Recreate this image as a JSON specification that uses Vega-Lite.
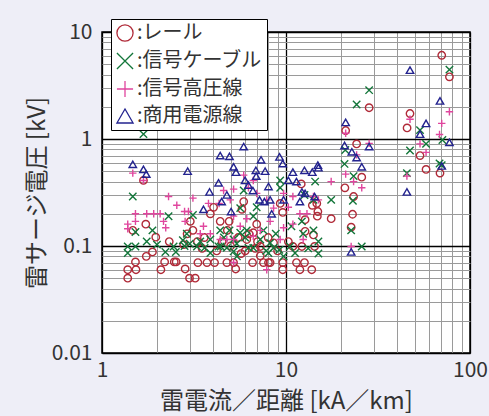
{
  "$schema": "https://vega.github.io/schema/vega-lite/v6.json",
  "width": 368,
  "height": 321,
  "autosize": "none",
  "padding": {"left": 102, "top": 32, "right": 19, "bottom": 63},
  "background": "#eeeef7",
  "config": {
    "view": {"fill": "white", "stroke": "black", "strokeWidth": 1.5},
    "font": "Noto Sans CJK JP"
  },
  "data": {"values": [
    {"s":"レール","x":70.2,"y":6.06},{"s":"レール","x":77.3,"y":3.81},{"s":"レール","x":28.3,"y":1.96},{"s":"レール","x":47.2,"y":1.73},
    {"s":"レール","x":45.5,"y":1.27},{"s":"レール","x":21.1,"y":1.2},{"s":"レール","x":24.2,"y":0.9},{"s":"レール","x":53.5,"y":0.7},
    {"s":"レール","x":57.7,"y":0.52},{"s":"レール","x":68.7,"y":0.48},{"s":"レール","x":25.8,"y":0.44},{"s":"レール","x":20.9,"y":0.35},
    {"s":"レール","x":23.3,"y":0.29},{"s":"レール","x":23.0,"y":0.198},{"s":"レール","x":22.6,"y":0.15},{"s":"レール","x":17.6,"y":0.18},
    {"s":"レール","x":14.9,"y":0.21},{"s":"レール","x":14.7,"y":0.25},{"s":"レール","x":12.1,"y":0.38},{"s":"レール","x":1.68,"y":0.41},
    {"s":"レール","x":1.73,"y":0.16},{"s":"レール","x":1.47,"y":0.14},{"s":"レール","x":1.74,"y":0.08},{"s":"レール","x":1.96,"y":0.121},
    {"s":"レール","x":1.88,"y":0.088},{"s":"レール","x":2.32,"y":0.11},{"s":"レール","x":2.19,"y":0.071},{"s":"レール","x":2.53,"y":0.071},
    {"s":"レール","x":2.47,"y":0.071},{"s":"レール","x":2.09,"y":0.06},{"s":"レール","x":1.52,"y":0.071},{"s":"レール","x":1.38,"y":0.06},
    {"s":"レール","x":1.53,"y":0.06},{"s":"レール","x":1.38,"y":0.05},{"s":"レール","x":2.83,"y":0.061},{"s":"レール","x":2.99,"y":0.05},
    {"s":"レール","x":3.21,"y":0.05},{"s":"レール","x":3.32,"y":0.07},{"s":"レール","x":3.72,"y":0.07},{"s":"レール","x":4.09,"y":0.07},
    {"s":"レール","x":3.02,"y":0.17},{"s":"レール","x":3.12,"y":0.14},{"s":"レール","x":3.88,"y":0.2},{"s":"レール","x":4.04,"y":0.23},
    {"s":"レール","x":3.6,"y":0.12},{"s":"レール","x":2.78,"y":0.103},{"s":"レール","x":4.77,"y":0.07},{"s":"レール","x":5.19,"y":0.07},
    {"s":"レール","x":5.33,"y":0.061},{"s":"レール","x":4.39,"y":0.17},{"s":"レール","x":4.91,"y":0.17},{"s":"レール","x":5.89,"y":0.26},
    {"s":"レール","x":5.76,"y":0.22},{"s":"レール","x":6.58,"y":0.07},{"s":"レール","x":7.54,"y":0.07},{"s":"レール","x":8.03,"y":0.07},
    {"s":"レール","x":8.2,"y":0.07},{"s":"レール","x":6.93,"y":0.16},{"s":"レール","x":6.64,"y":0.133},{"s":"レール","x":6.12,"y":0.115},
    {"s":"レール","x":7.25,"y":0.081},{"s":"レール","x":9.6,"y":0.07},{"s":"レール","x":9.6,"y":0.06},{"s":"レール","x":9.3,"y":0.25},
    {"s":"レール","x":9.6,"y":0.206},{"s":"レール","x":10.3,"y":0.11},{"s":"レール","x":10.9,"y":0.099},{"s":"レール","x":11.4,"y":0.07},
    {"s":"レール","x":12.6,"y":0.07},{"s":"レール","x":11.9,"y":0.06},{"s":"レール","x":13.8,"y":0.06},{"s":"レール","x":12.2,"y":0.099},
    {"s":"レール","x":12.7,"y":0.137},{"s":"レール","x":14.1,"y":0.127},{"s":"レール","x":14.3,"y":0.099},{"s":"レール","x":12.7,"y":0.176},
    {"s":"レール","x":8.56,"y":0.107},{"s":"レール","x":7.25,"y":0.099},{"s":"レール","x":4.5,"y":0.11},{"s":"レール","x":5.0,"y":0.1},
    {"s":"レール","x":5.5,"y":0.12},{"s":"レール","x":6.0,"y":0.09},{"s":"レール","x":6.3,"y":0.13},{"s":"レール","x":4.2,"y":0.09},
    {"s":"レール","x":3.3,"y":0.11},{"s":"レール","x":2.9,"y":0.13},{"s":"レール","x":5.7,"y":0.085},{"s":"レール","x":7.0,"y":0.11},
    {"s":"レール","x":8.0,"y":0.12},{"s":"レール","x":3.5,"y":0.095},{"s":"レール","x":4.8,"y":0.14},{"s":"レール","x":6.8,"y":0.095},
    {"s":"レール","x":14.8,"y":0.19},{"s":"レール","x":13.9,"y":0.24},{"s":"レール","x":9.0,"y":0.09},

    {"s":"信号ケーブル","x":1.68,"y":1.11},{"s":"信号ケーブル","x":77.3,"y":4.45},{"s":"信号ケーブル","x":28.3,"y":2.86},{"s":"信号ケーブル","x":24.2,"y":2.1},
    {"s":"信号ケーブル","x":53.5,"y":1.21},{"s":"信号ケーブル","x":57.7,"y":0.9},{"s":"信号ケーブル","x":70.8,"y":0.98},{"s":"信号ケーブル","x":47.2,"y":0.78},
    {"s":"信号ケーブル","x":68.3,"y":0.59},{"s":"信号ケーブル","x":70.2,"y":0.57},{"s":"信号ケーブル","x":45.4,"y":0.48},{"s":"信号ケーブル","x":21.0,"y":0.79},
    {"s":"信号ケーブル","x":20.8,"y":0.585},{"s":"信号ケーブル","x":23.3,"y":0.45},{"s":"信号ケーブル","x":23.1,"y":0.265},{"s":"信号ケーブル","x":22.6,"y":0.14},
    {"s":"信号ケーブル","x":25.8,"y":0.099},{"s":"信号ケーブル","x":17.6,"y":0.27},{"s":"信号ケーブル","x":14.4,"y":0.4},{"s":"信号ケーブル","x":9.3,"y":0.41},
    {"s":"信号ケーブル","x":12.6,"y":0.3},{"s":"信号ケーブル","x":1.47,"y":0.29},{"s":"信号ケーブル","x":1.52,"y":0.135},{"s":"信号ケーブル","x":1.38,"y":0.099},
    {"s":"信号ケーブル","x":1.38,"y":0.086},{"s":"信号ケーブル","x":1.52,"y":0.099},{"s":"信号ケーブル","x":1.75,"y":0.11},{"s":"信号ケーブル","x":1.88,"y":0.14},
    {"s":"信号ケーブル","x":2.21,"y":0.088},{"s":"信号ケーブル","x":2.3,"y":0.19},{"s":"信号ケーブル","x":2.52,"y":0.088},{"s":"信号ケーブル","x":2.81,"y":0.1},
    {"s":"信号ケーブル","x":2.89,"y":0.13},{"s":"信号ケーブル","x":3.28,"y":0.099},{"s":"信号ケーブル","x":3.12,"y":0.195},{"s":"信号ケーブル","x":3.61,"y":0.096},
    {"s":"信号ケーブル","x":3.88,"y":0.086},{"s":"信号ケーブル","x":4.39,"y":0.14},{"s":"信号ケーブル","x":4.3,"y":0.099},{"s":"信号ケーブル","x":4.77,"y":0.096},
    {"s":"信号ケーブル","x":5.19,"y":0.089},{"s":"信号ケーブル","x":5.41,"y":0.08},{"s":"信号ケーブル","x":5.89,"y":0.33},{"s":"信号ケーブル","x":6.93,"y":0.23},
    {"s":"信号ケーブル","x":6.12,"y":0.14},{"s":"信号ケーブル","x":6.64,"y":0.096},{"s":"信号ケーブル","x":7.54,"y":0.14},{"s":"信号ケーブル","x":8.03,"y":0.086},
    {"s":"信号ケーブル","x":8.56,"y":0.096},{"s":"信号ケーブル","x":9.3,"y":0.35},{"s":"信号ケーブル","x":9.7,"y":0.08},{"s":"信号ケーブル","x":10.7,"y":0.153},
    {"s":"信号ケーブル","x":12.2,"y":0.17},{"s":"信号ケーブル","x":11.2,"y":0.086},{"s":"信号ケーブル","x":12.4,"y":0.13},{"s":"信号ケーブル","x":14.1,"y":0.14},
    {"s":"信号ケーブル","x":15.0,"y":0.11},{"s":"信号ケーブル","x":15.0,"y":0.085},{"s":"信号ケーブル","x":4.93,"y":0.14},{"s":"信号ケーブル","x":5.64,"y":0.133},
    {"s":"信号ケーブル","x":5.19,"y":0.115},{"s":"信号ケーブル","x":3.88,"y":0.115},{"s":"信号ケーブル","x":3.42,"y":0.11},{"s":"信号ケーブル","x":2.75,"y":0.113},
    {"s":"信号ケーブル","x":1.99,"y":0.103},{"s":"信号ケーブル","x":2.45,"y":0.099},{"s":"信号ケーブル","x":4.42,"y":0.099},{"s":"信号ケーブル","x":6.25,"y":0.096},
    {"s":"信号ケーブル","x":7.25,"y":0.115},{"s":"信号ケーブル","x":8.2,"y":0.107},{"s":"信号ケーブル","x":6.64,"y":0.19},{"s":"信号ケーブル","x":5.64,"y":0.226},
    {"s":"信号ケーブル","x":10.5,"y":0.099},{"s":"信号ケーブル","x":14.1,"y":0.27},{"s":"信号ケーブル","x":4.6,"y":0.12},{"s":"信号ケーブル","x":5.4,"y":0.105},
    {"s":"信号ケーブル","x":6.0,"y":0.12},{"s":"信号ケーブル","x":7.8,"y":0.09},{"s":"信号ケーブル","x":3.0,"y":0.105},{"s":"信号ケーブル","x":13.2,"y":0.095},
    {"s":"信号ケーブル","x":8.8,"y":0.13},{"s":"信号ケーブル","x":9.2,"y":0.092},

    {"s":"信号高圧線","x":77.3,"y":1.8},{"s":"信号高圧線","x":70.2,"y":1.4},{"s":"信号高圧線","x":68.3,"y":1.1},{"s":"信号高圧線","x":47.2,"y":1.53},
    {"s":"信号高圧線","x":53.5,"y":0.9},{"s":"信号高圧線","x":57.7,"y":0.75},{"s":"信号高圧線","x":45.4,"y":0.45},{"s":"信号高圧線","x":21.1,"y":1.13},
    {"s":"信号高圧線","x":28.3,"y":0.91},{"s":"信号高圧線","x":24.2,"y":0.71},{"s":"信号高圧線","x":21.1,"y":0.47},{"s":"信号高圧線","x":23.3,"y":0.4},
    {"s":"信号高圧線","x":25.8,"y":0.35},{"s":"信号高圧線","x":17.6,"y":0.4},{"s":"信号高圧線","x":22.6,"y":0.099},{"s":"信号高圧線","x":1.47,"y":0.48},
    {"s":"信号高圧線","x":1.38,"y":0.16},{"s":"信号高圧線","x":1.52,"y":0.17},{"s":"信号高圧線","x":1.52,"y":0.2},{"s":"信号高圧線","x":1.75,"y":0.2},
    {"s":"信号高圧線","x":1.91,"y":0.2},{"s":"信号高圧線","x":2.07,"y":0.2},{"s":"信号高圧線","x":2.16,"y":0.17},{"s":"信号高圧線","x":2.22,"y":0.148},
    {"s":"信号高圧線","x":2.3,"y":0.29},{"s":"信号高圧線","x":2.55,"y":0.24},{"s":"信号高圧線","x":2.81,"y":0.21},{"s":"信号高圧線","x":2.95,"y":0.21},
    {"s":"信号高圧線","x":3.12,"y":0.28},{"s":"信号高圧線","x":2.83,"y":0.17},{"s":"信号高圧線","x":3.42,"y":0.13},{"s":"信号高圧線","x":3.79,"y":0.25},
    {"s":"信号高圧線","x":4.33,"y":0.25},{"s":"信号高圧線","x":4.58,"y":0.33},{"s":"信号高圧線","x":5.19,"y":0.34},{"s":"信号高圧線","x":4.98,"y":0.27},
    {"s":"信号高圧線","x":5.89,"y":0.46},{"s":"信号高圧線","x":6.25,"y":0.35},{"s":"信号高圧線","x":6.64,"y":0.41},{"s":"信号高圧線","x":5.19,"y":0.19},
    {"s":"信号高圧線","x":5.64,"y":0.153},{"s":"信号高圧線","x":6.12,"y":0.18},{"s":"信号高圧線","x":6.93,"y":0.31},{"s":"信号高圧線","x":7.86,"y":0.27},
    {"s":"信号高圧線","x":8.56,"y":0.226},{"s":"信号高圧線","x":9.7,"y":0.31},{"s":"信号高圧線","x":10.3,"y":0.23},{"s":"信号高圧線","x":10.9,"y":0.29},
    {"s":"信号高圧線","x":11.9,"y":0.2},{"s":"信号高圧線","x":13.0,"y":0.2},{"s":"信号高圧線","x":14.1,"y":0.29},{"s":"信号高圧線","x":15.0,"y":0.27},
    {"s":"信号高圧線","x":9.7,"y":0.148},{"s":"信号高圧線","x":10.9,"y":0.16},{"s":"信号高圧線","x":12.4,"y":0.115},{"s":"信号高圧線","x":7.86,"y":0.06},
    {"s":"信号高圧線","x":5.19,"y":0.07},{"s":"信号高圧線","x":4.39,"y":0.115},{"s":"信号高圧線","x":3.88,"y":0.13},{"s":"信号高圧線","x":3.56,"y":0.153},
    {"s":"信号高圧線","x":6.64,"y":0.123},{"s":"信号高圧線","x":7.25,"y":0.14},{"s":"信号高圧線","x":8.2,"y":0.17},{"s":"信号高圧線","x":9.3,"y":0.115},
    {"s":"信号高圧線","x":5.19,"y":0.115},{"s":"信号高圧線","x":4.77,"y":0.115},{"s":"信号高圧線","x":1.68,"y":0.41},{"s":"信号高圧線","x":1.38,"y":0.145},

    {"s":"商用電源線","x":47.2,"y":4.4},{"s":"商用電源線","x":68.7,"y":2.27},{"s":"商用電源線","x":57.7,"y":1.4},{"s":"商用電源線","x":53.5,"y":1.11},
    {"s":"商用電源線","x":77.3,"y":0.93},{"s":"商用電源線","x":70.2,"y":0.56},{"s":"商用電源線","x":45.4,"y":0.32},{"s":"商用電源線","x":21.1,"y":1.43},
    {"s":"商用電源線","x":20.8,"y":0.87},{"s":"商用電源線","x":22.8,"y":0.76},{"s":"商用電源線","x":24.2,"y":0.67},{"s":"商用電源線","x":28.3,"y":0.85},
    {"s":"商用電源線","x":25.8,"y":0.55},{"s":"商用電源線","x":22.6,"y":0.088},{"s":"商用電源線","x":1.47,"y":0.58},{"s":"商用電源線","x":1.68,"y":0.52},
    {"s":"商用電源線","x":1.74,"y":0.47},{"s":"商用電源線","x":2.92,"y":0.5},{"s":"商用電源線","x":5.89,"y":0.85},{"s":"商用電源線","x":4.39,"y":0.7},
    {"s":"商用電源線","x":4.93,"y":0.69},{"s":"商用電源線","x":5.19,"y":0.55},{"s":"商用電源線","x":5.35,"y":0.49},{"s":"商用電源線","x":4.3,"y":0.39},
    {"s":"商用電源線","x":3.84,"y":0.32},{"s":"商用電源線","x":3.56,"y":0.22},{"s":"商用電源線","x":4.47,"y":0.26},{"s":"商用電源線","x":4.77,"y":0.3},
    {"s":"商用電源線","x":5.03,"y":0.21},{"s":"商用電源線","x":5.99,"y":0.41},{"s":"商用電源線","x":6.25,"y":0.37},{"s":"商用電源線","x":6.61,"y":0.33},
    {"s":"商用電源線","x":6.86,"y":0.51},{"s":"商用電源線","x":6.89,"y":0.45},{"s":"商用電源線","x":7.32,"y":0.64},{"s":"商用電源線","x":7.7,"y":0.5},
    {"s":"商用電源線","x":7.18,"y":0.27},{"s":"商用電源線","x":7.63,"y":0.26},{"s":"商用電源線","x":8.2,"y":0.27},{"s":"商用電源線","x":8.36,"y":0.2},
    {"s":"商用電源線","x":8.03,"y":0.36},{"s":"商用電源線","x":9.22,"y":0.68},{"s":"商用電源線","x":9.6,"y":0.59},{"s":"商用電源線","x":9.7,"y":0.27},
    {"s":"商用電源線","x":10.3,"y":0.41},{"s":"商用電源線","x":10.9,"y":0.49},{"s":"商用電源線","x":11.4,"y":0.4},{"s":"商用電源線","x":12.6,"y":0.51},
    {"s":"商用電源線","x":12.2,"y":0.32},{"s":"商用電源線","x":12.7,"y":0.31},{"s":"商用電源線","x":11.9,"y":0.26},{"s":"商用電源線","x":13.9,"y":0.49},
    {"s":"商用電源線","x":14.9,"y":0.57},{"s":"商用電源線","x":15.0,"y":0.54},{"s":"商用電源線","x":14.3,"y":0.29}
  ]},
  "mark": {"type": "point", "filled": false, "size": 55, "strokeWidth": 1.4, "opacity": 1},
  "encoding": {
    "x": {
      "field": "x", "type": "quantitative",
      "scale": {"type": "log", "domain": [1, 100], "nice": false},
      "axis": {
        "title": "雷電流／距離 [kA／km]",
        "values": [1,2,3,4,5,6,7,8,9,10,20,30,40,50,60,70,80,90,100],
        "labelExpr": "(datum.value==1||datum.value==10||datum.value==100) ? datum.value + '' : ''",
        "grid": true,
        "gridColor": {"condition": {"test": "datum.value==1||datum.value==10||datum.value==100", "value": "#000000"}, "value": "#9a9a9a"},
        "gridWidth": {"condition": {"test": "datum.value==1||datum.value==10||datum.value==100", "value": 1.3}, "value": 1},
        "gridOpacity": 1,
        "ticks": false, "domain": false,
        "labelFlush": false, "labelOverlap": false, "labelBound": false,
        "labelFontSize": 21, "labelColor": "#333333", "labelPadding": 6, "labelFont": "Noto Sans CJK JP",
        "titleFontSize": 24, "titleColor": "#333333", "titleFontWeight": "normal", "titlePadding": 9, "titleFont": "Noto Sans CJK JP"
      }
    },
    "y": {
      "field": "y", "type": "quantitative",
      "scale": {"type": "log", "domain": [0.01, 10], "nice": false},
      "axis": {
        "title": "雷サージ電圧 [kV]",
        "values": [0.01,0.02,0.03,0.04,0.05,0.06,0.07,0.08,0.09,0.1,0.2,0.3,0.4,0.5,0.6,0.7,0.8,0.9,1,2,3,4,5,6,7,8,9,10],
        "labelExpr": "(datum.value==0.01||datum.value==0.1||datum.value==1||datum.value==10) ? datum.value + '' : ''",
        "grid": true,
        "gridColor": {"condition": {"test": "datum.value==0.01||datum.value==0.1||datum.value==1||datum.value==10", "value": "#000000"}, "value": "#9a9a9a"},
        "gridWidth": {"condition": {"test": "datum.value==0.01||datum.value==0.1||datum.value==1||datum.value==10", "value": 1.3}, "value": 1},
        "gridOpacity": 1,
        "ticks": false, "domain": false,
        "labelOverlap": false, "labelBound": false, "labelFlush": false,
        "labelFontSize": 21, "labelColor": "#333333", "labelPadding": 10, "labelFont": "Noto Sans CJK JP",
        "titleFontSize": 24, "titleColor": "#333333", "titleFontWeight": "normal", "titlePadding": 2, "titleFont": "Noto Sans CJK JP"
      }
    },
    "color": {
      "field": "s", "type": "nominal",
      "scale": {"domain": ["レール", "信号ケーブル", "信号高圧線", "商用電源線"], "range": ["#b02a38", "#13763a", "#e0469e", "#23238f"]},
      "legend": {
        "title": null, "orient": "none", "legendX": 9, "legendY": -13,
        "labelExpr": "':' + datum.label",
        "fillColor": "white", "strokeColor": "#000000", "padding": 4,
        "labelFontSize": 20, "labelColor": "#333333", "labelFont": "Noto Sans CJK JP", "labelLimit": 300,
        "symbolSize": 260, "symbolStrokeWidth": 1.3, "rowPadding": 6, "labelOffset": 2, "symbolType": "circle"
      }
    },
    "shape": {
      "field": "s", "type": "nominal",
      "scale": {"domain": ["レール", "信号ケーブル", "信号高圧線", "商用電源線"], "range": ["circle", "M-1,-1L1,1M-1,1L1,-1", "M-1,0L1,0M0,-1L0,1", "triangle-up"]}
    }
  }
}
